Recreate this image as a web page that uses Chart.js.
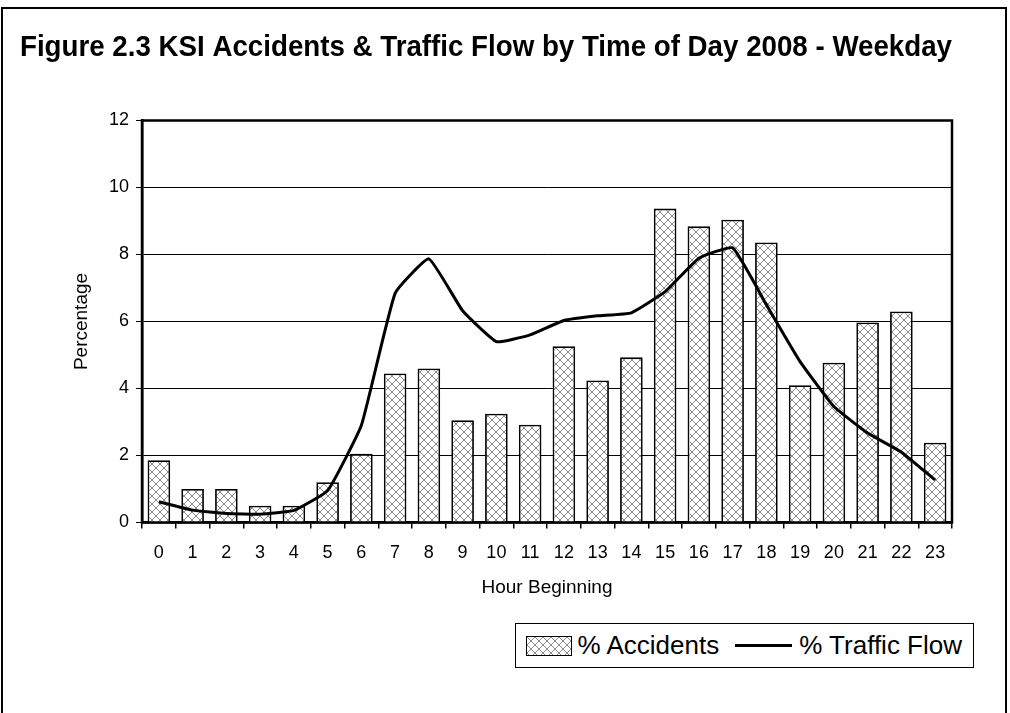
<!DOCTYPE html>
<html>
<head>
<meta charset="utf-8">
<script src="https://cdn.jsdelivr.net/npm/chart.js@4.4.1/dist/chart.umd.min.js"></script>
<style>
    html, body { margin: 0; padding: 0; background: #fff; }
    body { width: 1010px; height: 713px; position: relative; overflow: hidden;
           font-family: 'Liberation Sans', Arial, sans-serif; }
    #frame { position: absolute; left: 1px; top: 7px; width: 1006px; height: 730px;
             border: 2px solid #000; box-sizing: border-box; }
    #chartKsi { position: absolute; left: 0; top: 0; }
    #legend { position: absolute; right: 36px; top: 623px; height: 45px; box-sizing: border-box;
              border: 1.5px solid #000; background: #fff; display: flex; align-items: center;
              padding: 0 11px 0 10px; font-size: 26px; color: #000; white-space: nowrap; }
    #legend .swatch { display: inline-block; width: 46px; height: 20px; box-sizing: border-box;
                      border: 1.5px solid #000; margin-right: 6px; }
    #legend .line { display: inline-block; width: 57px; height: 3px; background: #000;
                    margin: 0 7px 0 16px; }
</style>
</head>
<body>
<div id="frame"></div>
<canvas id="chartKsi" width="1010" height="713"></canvas>
<div id="legend">
    <span class="swatch" id="swatchAcc"></span><span>% Accidents</span>
    <span class="line"></span><span>% Traffic Flow</span>
</div>

<script>
// ── Data ─────────────────────────────────
const hours     = ['0','1','2','3','4','5','6','7','8','9','10','11','12','13','14','15','16','17','18','19','20','21','22','23'];
const accidents = [1.86, 1.0, 1.0, 0.5, 0.5, 1.2, 2.05, 4.45, 4.6, 3.05, 3.25, 2.92, 5.26, 4.24, 4.93, 9.37, 8.84, 9.04, 8.36, 4.1, 4.77, 5.97, 6.3, 2.38];
const traffic   = [0.62, 0.37, 0.27, 0.25, 0.36, 0.95, 2.9, 6.84, 7.87, 6.32, 5.4, 5.6, 6.03, 6.17, 6.26, 6.89, 7.89, 8.2, 6.5, 4.8, 3.46, 2.67, 2.1, 1.27];

const FONT = "'Liberation Sans', Arial, sans-serif";

// ── Cross-hatch pattern for bars ─────────
function makeHatch() {
    const c = document.createElement('canvas');
    c.width = 8; c.height = 8;
    const g = c.getContext('2d');
    g.fillStyle = '#fff';
    g.fillRect(0, 0, 8, 8);
    g.strokeStyle = '#8a8a8a';
    g.lineWidth = 1;
    g.beginPath();
    g.moveTo(0, 0); g.lineTo(8, 8);
    g.moveTo(8, 0); g.lineTo(0, 8);
    g.stroke();
    return c;
}
const hatchCanvas = makeHatch();
const ctx = document.getElementById('chartKsi');
const hatch = ctx.getContext('2d').createPattern(hatchCanvas, 'repeat');
document.getElementById('swatchAcc').style.background = 'url(' + hatchCanvas.toDataURL() + ')';

// ── Frame round the plot area ────────────
const plotFrame = {
    id: 'plotFrame',
    afterDraw(chart) {
        const a = chart.chartArea, g = chart.ctx;
        g.save();
        g.strokeStyle = '#000';
        g.lineWidth = 2.5;
        g.strokeRect(a.left, a.top, a.right - a.left, a.bottom - a.top);
        g.restore();
    }
};

new Chart(ctx, {
    type: 'bar',
    data: {
        labels: hours,
        datasets: [
            {
                type: 'line',
                label: '% Traffic Flow',
                data: traffic,
                borderColor: '#000',
                borderWidth: 3,
                pointRadius: 0,
                tension: 0.12,
                fill: false,
                order: 0
            },
            {
                type: 'bar',
                label: '% Accidents',
                data: accidents,
                backgroundColor: hatch,
                borderColor: '#000',
                borderWidth: 1.8,
                categoryPercentage: 1,
                barPercentage: 0.67,
                order: 1
            }
        ]
    },
    options: {
        responsive: false,
        animation: false,
        layout: { padding: { top: 29.5, left: 20, right: 58, bottom: 110.5 } },
        plugins: {
            legend: { display: false },
            tooltip: { enabled: false },
            title: {
                display: true,
                text: 'Figure 2.3 KSI Accidents & Traffic Flow by Time of Day 2008 - Weekday',
                align: 'start',
                color: '#000',
                font: { family: FONT, size: 30, weight: 'bold' },
                padding: { top: 0, bottom: 55 }
            }
        },
        scales: {
            x: {
                grid: { display: true, drawOnChartArea: false, drawTicks: true, tickLength: 6,
                        color: '#000', lineWidth: 1.5, offset: true },
                border: { display: true, color: '#000', width: 2.5 },
                ticks: { color: '#000', font: { family: FONT, size: 18 }, padding: 14,
                         maxRotation: 0, autoSkip: false },
                title: { display: true, text: 'Hour Beginning', color: '#000',
                         font: { family: FONT, size: 19 }, padding: { top: 0, bottom: 3 } },
                afterFit: function(s) { s.height = 80; }
            },
            y: {
                min: 0,
                max: 12,
                grid: { color: '#000', lineWidth: 1, tickLength: 6 },
                border: { display: true, color: '#000', width: 2.5 },
                ticks: { stepSize: 2, color: '#000', font: { family: FONT, size: 18 }, padding: 7 },
                title: { display: true, text: 'Percentage', color: '#000',
                         font: { family: FONT, size: 19 }, padding: { top: 50, bottom: 0 } },
                afterFit: function(s) { s.width = 122; }
            }
        }
    },
    plugins: [plotFrame]
});
</script>
</body>
</html>
